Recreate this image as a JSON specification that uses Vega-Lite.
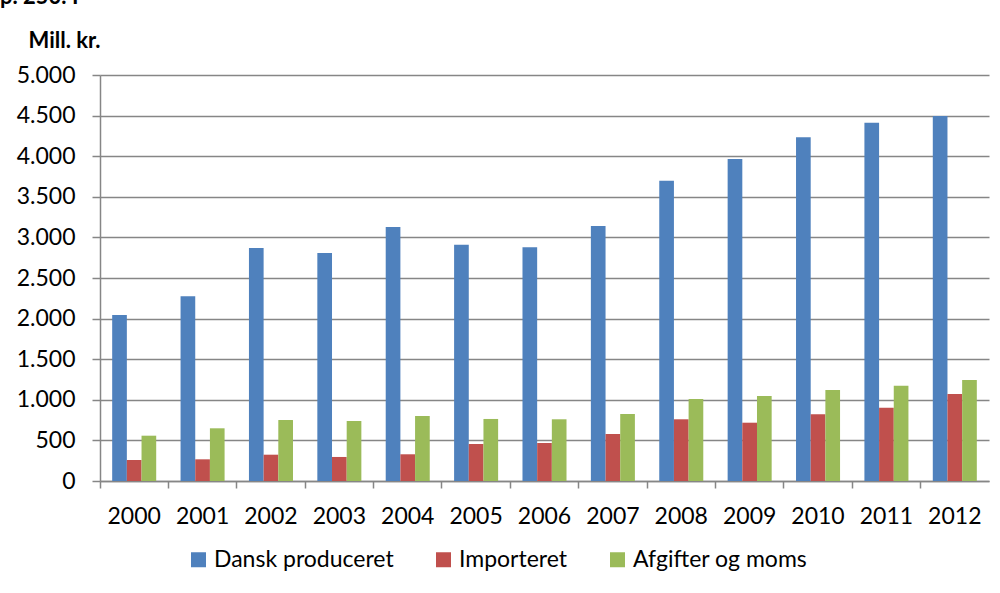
{
  "$schema": "https://vega.github.io/schema/vega-lite/v6.json",
  "width": 889,
  "height": 406,
  "autosize": "none",
  "padding": {"left": 100, "top": 75, "right": 11, "bottom": 112},
  "background": "white",
  "title": {"text": "p. 250. I", "anchor": "start", "frame": "group", "font": "Lato", "fontSize": 22, "fontWeight": "bold", "color": "black", "dx": -100, "offset": 20},
  "data": {
    "values": [
      {"year": "2000", "series": "Dansk produceret", "value": 2045},
      {"year": "2000", "series": "Importeret", "value": 259},
      {"year": "2000", "series": "Afgifter og moms", "value": 558},
      {"year": "2001", "series": "Dansk produceret", "value": 2275},
      {"year": "2001", "series": "Importeret", "value": 267},
      {"year": "2001", "series": "Afgifter og moms", "value": 649},
      {"year": "2002", "series": "Dansk produceret", "value": 2870},
      {"year": "2002", "series": "Importeret", "value": 324},
      {"year": "2002", "series": "Afgifter og moms", "value": 751},
      {"year": "2003", "series": "Dansk produceret", "value": 2808},
      {"year": "2003", "series": "Importeret", "value": 296},
      {"year": "2003", "series": "Afgifter og moms", "value": 739},
      {"year": "2004", "series": "Dansk produceret", "value": 3128},
      {"year": "2004", "series": "Importeret", "value": 329},
      {"year": "2004", "series": "Afgifter og moms", "value": 800},
      {"year": "2005", "series": "Dansk produceret", "value": 2910},
      {"year": "2005", "series": "Importeret", "value": 456},
      {"year": "2005", "series": "Afgifter og moms", "value": 764},
      {"year": "2006", "series": "Dansk produceret", "value": 2878},
      {"year": "2006", "series": "Importeret", "value": 468},
      {"year": "2006", "series": "Afgifter og moms", "value": 760},
      {"year": "2007", "series": "Dansk produceret", "value": 3140},
      {"year": "2007", "series": "Importeret", "value": 579},
      {"year": "2007", "series": "Afgifter og moms", "value": 825},
      {"year": "2008", "series": "Dansk produceret", "value": 3698},
      {"year": "2008", "series": "Importeret", "value": 760},
      {"year": "2008", "series": "Afgifter og moms", "value": 1010},
      {"year": "2009", "series": "Dansk produceret", "value": 3965},
      {"year": "2009", "series": "Importeret", "value": 718},
      {"year": "2009", "series": "Afgifter og moms", "value": 1047},
      {"year": "2010", "series": "Dansk produceret", "value": 4233},
      {"year": "2010", "series": "Importeret", "value": 821},
      {"year": "2010", "series": "Afgifter og moms", "value": 1121},
      {"year": "2011", "series": "Dansk produceret", "value": 4413},
      {"year": "2011", "series": "Importeret", "value": 903},
      {"year": "2011", "series": "Afgifter og moms", "value": 1174},
      {"year": "2012", "series": "Dansk produceret", "value": 4495},
      {"year": "2012", "series": "Importeret", "value": 1071},
      {"year": "2012", "series": "Afgifter og moms", "value": 1244}
    ]
  },
  "mark": {"type": "bar"},
  "encoding": {
    "x": {
      "field": "year",
      "type": "nominal",
      "scale": {"paddingInner": 0, "paddingOuter": 0},
      "axis": {
        "title": null,
        "labelAngle": 0,
        "bandPosition": 0,
        "domainColor": "#868686",
        "domainWidth": 1.5,
        "tickColor": "#868686",
        "tickWidth": 1.5,
        "tickSize": 7,
        "labelFont": "Lato",
        "labelFontSize": 23,
        "labelColor": "black",
        "labelPadding": 17,
        "grid": false
      }
    },
    "xOffset": {
      "field": "series",
      "sort": ["Dansk produceret", "Importeret", "Afgifter og moms"],
      "scale": {"paddingInner": 0, "paddingOuter": 0.83}
    },
    "y": {
      "field": "value",
      "type": "quantitative",
      "scale": {"domain": [0, 5000], "nice": false},
      "axis": {
        "values": [0, 500, 1000, 1500, 2000, 2500, 3000, 3500, 4000, 4500, 5000],
        "labelExpr": "replace(format(datum.value, ','), ',', '.')",
        "domainColor": "#868686",
        "domainWidth": 1.5,
        "tickColor": "#868686",
        "tickWidth": 1.5,
        "tickSize": 8,
        "gridColor": "#868686",
        "gridWidth": 1.5,
        "labelFont": "Lato",
        "labelFontSize": 23,
        "labelColor": "black",
        "labelPadding": 17,
        "title": "Mill. kr.",
        "titleAngle": 0,
        "titleAlign": "left",
        "titleBaseline": "alphabetic",
        "titleX": -72,
        "titleY": -28,
        "titleFont": "Lato",
        "titleFontSize": 22,
        "titleFontWeight": "bold",
        "titleColor": "black"
      }
    },
    "color": {
      "field": "series",
      "type": "nominal",
      "sort": ["Dansk produceret", "Importeret", "Afgifter og moms"],
      "scale": {"domain": ["Dansk produceret", "Importeret", "Afgifter og moms"], "range": ["#4F81BD", "#C0504D", "#9BBB59"]},
      "legend": {
        "title": null,
        "orient": "none",
        "legendX": 87,
        "legendY": 473,
        "direction": "horizontal",
        "symbolType": "square",
        "symbolSize": 225,
        "symbolStrokeWidth": 0,
        "labelFont": "Lato",
        "labelFontSize": 23,
        "labelColor": "black",
        "labelOffset": 4,
        "labelLimit": 0,
        "columnPadding": 38
      }
    }
  },
  "config": {"view": {"stroke": null}}
}
